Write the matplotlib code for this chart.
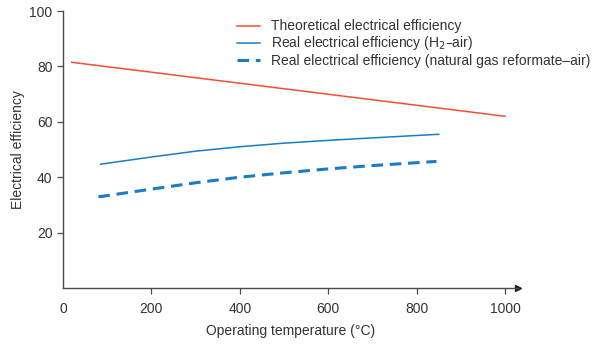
import numpy as np
import matplotlib.pyplot as plt

plt.rcParams['font.family'] = ['Liberation Sans', 'DejaVu Sans']

# efficiency curves vs operating temperature (°C, %)
temp_theory = [20, 1000]
eff_theory = [81.5, 62.0]

temp_h2 = [85, 200, 300, 400, 500, 600, 700, 850]
eff_h2 = [44.7, 47.3, 49.4, 51.0, 52.3, 53.3, 54.2, 55.5]

temp_ng = [80, 200, 300, 400, 500, 600, 700, 845]
eff_ng = [32.9, 35.7, 38.0, 40.0, 41.6, 43.0, 44.2, 45.7]

xticks = [0, 200, 400, 600, 800, 1000]
yticks = [20, 40, 60, 80, 100]

red = '#ef4f36'
blue = '#1a7cc4'
axis_col = '#4a4a4a'
text_col = '#333333'

fig = plt.figure(figsize=(5.92, 3.45), dpi=100)
ax = fig.add_axes([0.1064, 0.1652, 0.769, 0.8028])

ax.plot(temp_theory, eff_theory, color=red, lw=1.1,
        label='Theoretical electrical efficiency')
ax.plot(temp_h2, eff_h2, color=blue, lw=1.1,
        label='Real electrical efficiency (H$_2$\u2013air)')
ax.plot(temp_ng, eff_ng, color=blue, lw=2.2, dashes=(3.8, 2.2),
        label='Real electrical efficiency (natural gas reformate\u2013air)')

ax.set_xlim(0, 1030)
ax.set_ylim(0, 100)
ax.set_xticks(xticks)
ax.set_yticks(yticks)
for s in ['top', 'right']:
    ax.spines[s].set_visible(False)
for s in ['left', 'bottom']:
    ax.spines[s].set_color(axis_col)
    ax.spines[s].set_linewidth(1.0)
ax.tick_params(colors=axis_col, labelcolor=text_col, labelsize=10, length=4, width=0.9)
ax.tick_params(axis='x', pad=6)
ax.xaxis.get_major_ticks()[0].tick1line.set_visible(False)

# arrow head at the end of the x axis
ax.plot([1.0], [0], marker='>', ms=5, color='#222222', transform=ax.transAxes, clip_on=False)

ax.set_xlabel('Operating temperature (°C)', fontsize=10, color=text_col, labelpad=6)
ax.set_ylabel('Electrical efficiency', fontsize=10, color=text_col, labelpad=3)

leg = ax.legend(loc='upper left', bbox_to_anchor=(0.370, 0.99), frameon=False,
                fontsize=10, handlelength=1.65, handletextpad=0.8,
                labelspacing=0.08, borderaxespad=0)
for t in leg.get_texts():
    t.set_color(text_col)

fig.savefig('out.png', dpi=100)
